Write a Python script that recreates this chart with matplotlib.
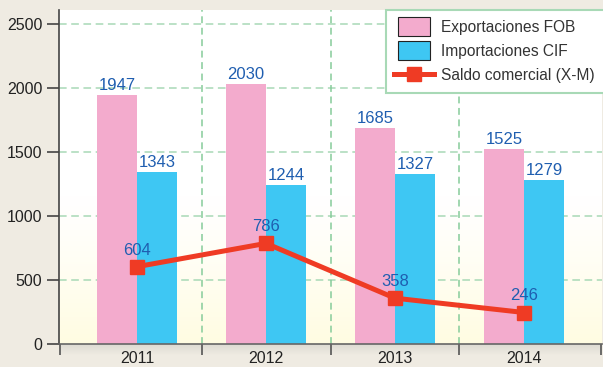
import numpy as np
import matplotlib
matplotlib.use("Agg")
import matplotlib.pyplot as plt
from matplotlib.lines import Line2D
from matplotlib.patches import Patch, Rectangle
from matplotlib.legend_handler import HandlerPatch

years = ["2011", "2012", "2013", "2014"]
exportaciones = [1947, 2030, 1685, 1525]
importaciones = [1343, 1244, 1327, 1279]
saldo = [604, 786, 358, 246]
y_ticks = [0, 500, 1000, 1500, 2000, 2500]

plt.rcParams["font.family"] = ["Liberation Sans", "DejaVu Sans"]

PINK = "#f3abcd"
BLUE = "#3ec7f3"
RED = "#ef3b24"
LABEL = "#1f5eb0"
GRID_H = "#a8d9b6"
GRID_V = "#86cc9a"
BG = "#efebe2"

W, H = 603, 367
fig = plt.figure(figsize=(W / 100, H / 100), dpi=100, facecolor=BG)
ax = fig.add_axes([59 / W, 23 / H, 543 / W, 334 / H])

x = np.arange(len(years))
w = 0.31
xmin, xmax = -0.605, 3.605
ymax = 2609
ax.set_xlim(xmin, xmax)
ax.set_ylim(0, ymax)

# soft white-to-cream background inside the plotting area
grad = np.linspace(0, 1, 256)
t = np.clip((1150 - grad * ymax) / 1150, 0, 1) ** 1.2
top = np.array([1.0, 1.0, 1.0])
bottom = np.array([1.0, 0.99, 0.885])
img = top * (1 - t[:, None]) + bottom * t[:, None]
img = np.repeat(img[:, None, :], 2, axis=1)
ax.imshow(img, extent=[xmin, xmax, 0, ymax], origin="lower", aspect="auto", zorder=0)

# dashed grid
for yv in y_ticks[1:]:
    ax.axhline(yv, color=GRID_H, lw=1.1, ls=(0, (5, 3)), zorder=1)
for xv in [0.5, 1.5, 2.5]:
    ax.axvline(xv, color=GRID_V, lw=1.1, ls=(0, (4.5, 3)), zorder=1)

ax.bar(x - w / 2, exportaciones, width=w, color=PINK, zorder=2)
ax.bar(x + w / 2, importaciones, width=w, color=BLUE, zorder=2)

FS_LAB = 12
for xi, v in zip(x, exportaciones):
    ax.annotate(str(v), (xi - w / 2, v), xytext=(0, 1.5), textcoords="offset points",
                ha="center", va="bottom", fontsize=FS_LAB, color=LABEL, zorder=5)
for xi, v in zip(x, importaciones):
    ax.annotate(str(v), (xi + w / 2, v), xytext=(0, 1.5), textcoords="offset points",
                ha="center", va="bottom", fontsize=FS_LAB, color=LABEL, zorder=5)

ax.plot(x, saldo, color=RED, lw=3.6, marker="s", markersize=9.5, zorder=4)
for xi, v in zip(x, saldo):
    ax.annotate(str(v), (xi, v), xytext=(0, 6.5), textcoords="offset points",
                ha="center", va="bottom", fontsize=FS_LAB, color=LABEL, zorder=5)

# axes styling
ax.set_facecolor("white")
for s in ["top", "right"]:
    ax.spines[s].set_visible(False)
ax.spines["left"].set_color("#444444")
ax.spines["left"].set_linewidth(1.2)
ax.spines["bottom"].set_color("#666666")
ax.spines["bottom"].set_linewidth(1.2)

ax.set_yticks(y_ticks)
ax.set_yticklabels([str(v) for v in y_ticks], fontsize=11.5, color="#222222")
ax.tick_params(axis="y", direction="out", length=9, width=1.2, color="#444444", pad=3)

ax.set_xticks(x)
ax.set_xticklabels(years, fontsize=11.5, color="#222222")
ax.tick_params(axis="x", which="major", length=0, pad=5)
ax.set_xticks([xmin + 0.004, 0.5, 1.5, 2.5, xmax - 0.006], minor=True)
ax.tick_params(axis="x", which="minor", direction="out", length=8, width=1.2, color="#555555")

# shading strip under the category axis
shadow = fig.add_axes([59 / W, 12 / H, 543 / W, 11 / H], zorder=-1)
sh = np.linspace(0, 1, 64)
c_top = np.array([0.86, 0.85, 0.82])
c_bot = np.array([0.937, 0.922, 0.886])
simg = c_top * (1 - sh[:, None]) + c_bot * sh[:, None]
simg = np.repeat(simg[:, None, :], 2, axis=1)
shadow.imshow(simg, extent=[0, 1, 0, 1], origin="upper", aspect="auto")
shadow.axis("off")

# legend box running off the right edge
box = Rectangle((386 / W, (H - 93) / H), 240 / W, 83 / H, transform=fig.transFigure,
                facecolor="white", edgecolor=GRID_H, linewidth=1.5, zorder=10)
fig.patches.append(box)


def small_box(legend, orig_handle, xdescent, ydescent, width, height, fontsize):
    pad = width * 0.11
    return Rectangle((-xdescent + pad, -ydescent - 1.5), width - 2 * pad, height + 3)


handles = [
    Patch(facecolor=PINK, edgecolor="#222222", linewidth=0.8, label="Exportaciones FOB"),
    Patch(facecolor=BLUE, edgecolor="#222222", linewidth=0.8, label="Importaciones CIF"),
    Line2D([0], [0], color=RED, lw=3.6, marker="s", markersize=9.5, label="Saldo comercial (X-M)"),
]
leg = fig.legend(handles=handles, loc="upper left", bbox_to_anchor=(394 / W, (H - 19) / H),
                 fontsize=11.2, frameon=False, borderpad=0,
                 handlelength=2.6, handleheight=1.1, labelspacing=0.55,
                 handletextpad=0.45, borderaxespad=0,
                 handler_map={Patch: HandlerPatch(patch_func=small_box)})
leg.set_zorder(11)
for t_ in leg.get_texts():
    t_.set_color("#333333")

fig.savefig("out.png", dpi=100, facecolor=BG)
